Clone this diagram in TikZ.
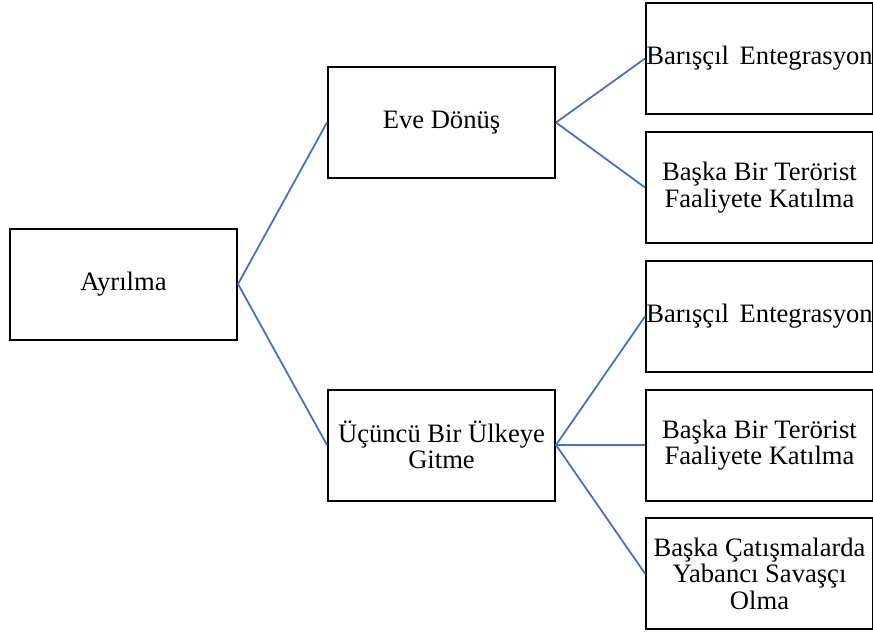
\documentclass[tikz,border=0pt]{standalone}
\usepackage{fontspec}
\setmainfont{Liberation Serif}
\begin{document}
\begin{tikzpicture}[x=0.5pt,y=-0.5pt,
  box/.style={draw=black, line width=1pt, fill=white, rectangle, minimum width=113.5pt, minimum height=55.5pt, inner sep=0pt, align=center, font=\fontsize{13.3}{13.2}\selectfont},
  link/.style={draw={rgb,255:red,68;green,114;blue,196}, line width=0.9pt}]
\useasboundingbox (0,0) rectangle (873,632);
\node[box] (ayr) at (123.5,284) {Ayrılma};
\node[box] (eve) at (441.5,122.5) {Eve Dönüş};
\node[box] (ucu) at (441.5,445) {Üçüncü Bir Ülkeye\\Gitme};
\node[box] (r1) at (759.5,58.5) {Barışçıl\hspace{0.4em}Entegrasyon};
\node[box] (r2) at (759.5,187.5) {Başka Bir Terörist\\Faaliyete Katılma};
\node[box] (r3) at (759.5,316.5) {Barışçıl\hspace{0.4em}Entegrasyon};
\node[box] (r4) at (759.5,445) {Başka Bir Terörist\\Faaliyete Katılma};
\node[box] (r5) at (759.5,573.5) {Başka Çatışmalarda\\Yabancı Savaşçı\\Olma};
\draw[link] (ayr.east) -- (eve.west);
\draw[link] (ayr.east) -- (ucu.west);
\draw[link] (eve.east) -- (r1.west);
\draw[link] (eve.east) -- (r2.west);
\draw[link] (ucu.east) -- (r3.west);
\draw[link] (ucu.east) -- (r4.west);
\draw[link] (ucu.east) -- (r5.west);
\end{tikzpicture}
\end{document}
